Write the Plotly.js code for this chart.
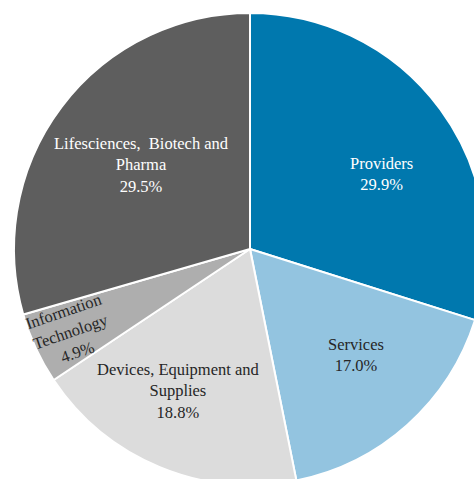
<!DOCTYPE html>
<html>
<head>
<meta charset="utf-8">
<script src="https://cdn.plot.ly/plotly-3.0.1.min.js"></script>
<style>
html,body{margin:0;padding:0;overflow:hidden;background:#fff;}
#chart{width:500px;height:500px;}
</style>
</head>
<body>
<div id="chart"></div>
<script>
// Data
var categories = ["Providers", "Services", "Devices, Equipment and Supplies", "Information Technology", "Lifesciences, Biotech and Pharma"];
var displayLabels = ["Providers", "Services", "Devices, Equipment and<br>Supplies", "Information<br>Technology", "Lifesciences,  Biotech and<br>Pharma"];
var shares = [29.9, 17.0, 18.8, 4.9, 29.5];
var sliceColors = ["#0078AE", "#93C4E0", "#DCDCDC", "#AEAEAE", "#5E5E5E"];
var textColors = ["#ffffff", "#262626", "#262626", "#262626", "#ffffff"];

// label placement (pixel centres in the 500x500 canvas) and rotation
var labelPos = [[381, 174], [356, 355], [178, 391], [70, 332], [141, 165]];
var labelAngle = [0, 0, 0, -19, 0];

var W = 500, H = 500;
var FONT = "Liberation Serif";
var annotations = categories.map(function (c, i) {
  return {
    xref: "paper", yref: "paper",
    x: labelPos[i][0] / W, y: 1 - labelPos[i][1] / H,
    xanchor: "center", yanchor: "middle",
    showarrow: false,
    textangle: labelAngle[i],
    text: displayLabels[i] + "<br>" + shares[i].toFixed(1) + "%",
    font: {family: FONT, size: 16.5, color: textColors[i]}
  };
});

var trace = {
  type: "pie",
  labels: categories,
  values: shares,
  sort: false,
  direction: "clockwise",
  rotation: 0,
  textinfo: "none",
  hoverinfo: "label+percent",
  marker: {colors: sliceColors, line: {color: "#ffffff", width: 2}},
  domain: {x: [14 / W, 486 / W], y: [1 - 485 / H, 1 - 13 / H]}
};

var layout = {
  width: W, height: H,
  margin: {l: 0, r: 0, t: 0, b: 0},
  showlegend: false,
  paper_bgcolor: "#ffffff",
  font: {family: FONT},
  annotations: annotations
};

Plotly.newPlot("chart", [trace], layout, {staticPlot: true, displayModeBar: false});
</script>
</body>
</html>
